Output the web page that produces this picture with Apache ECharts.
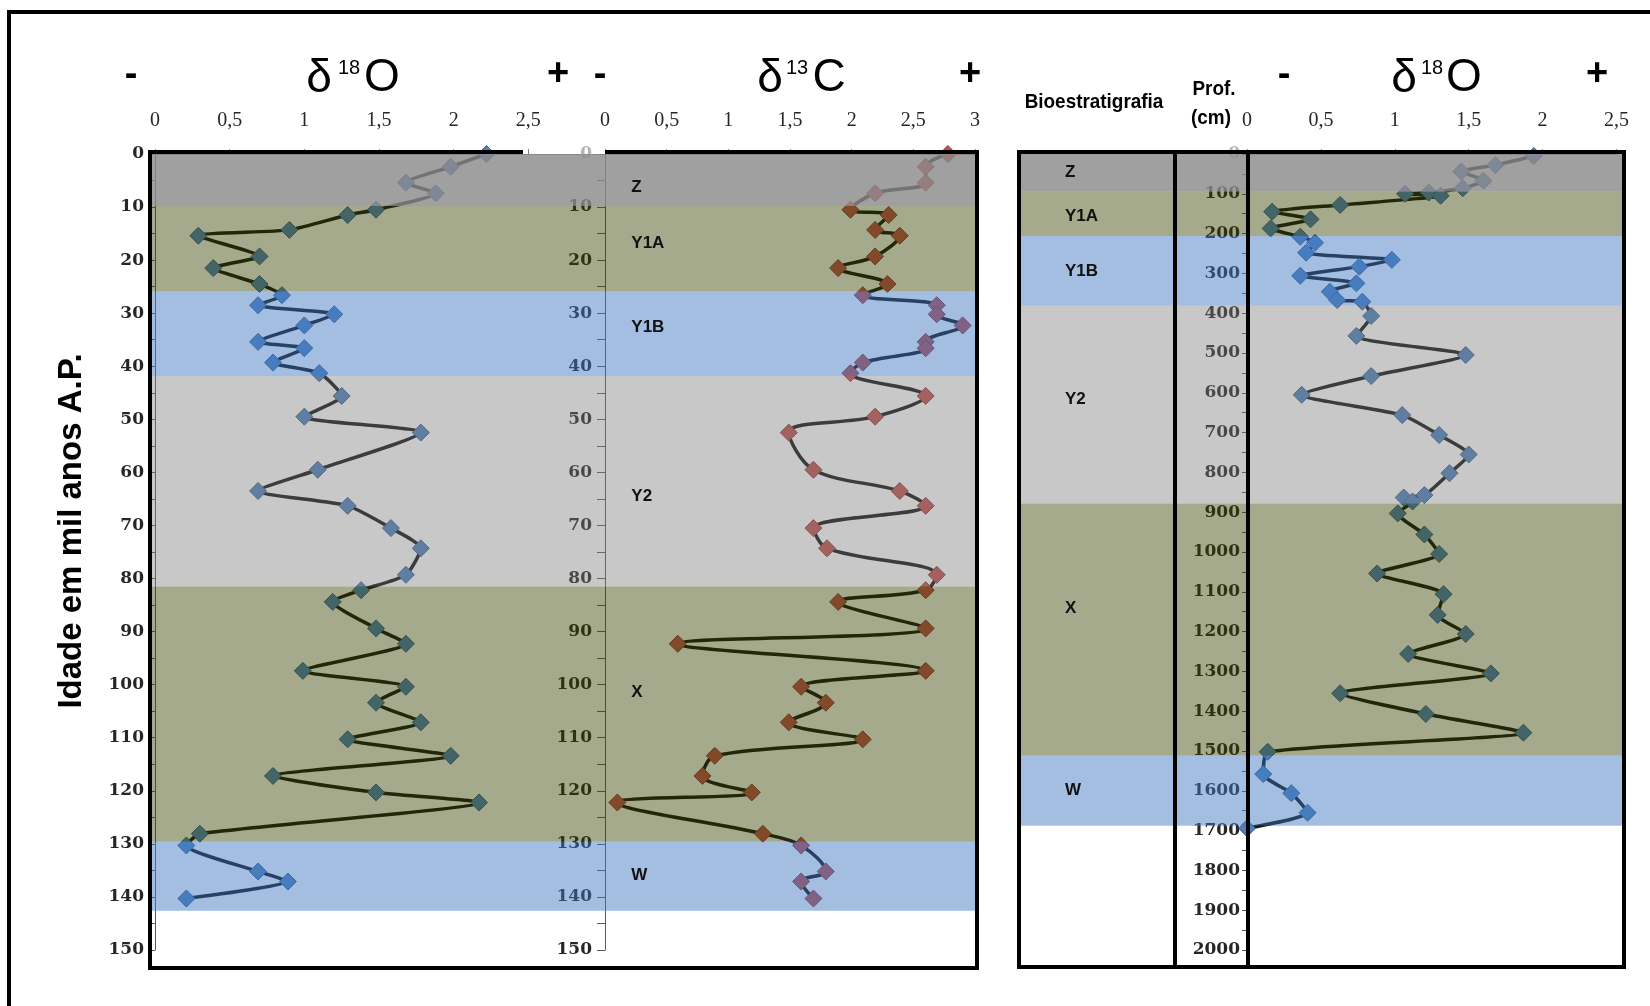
<!DOCTYPE html>
<html>
<head>
<meta charset="utf-8">
<script src="https://cdn.jsdelivr.net/npm/echarts@6/dist/echarts.min.js"></script>
<style>
  html, body { margin: 0; padding: 0; background: #ffffff; }
  #chart { width: 1650px; height: 1006px; }
</style>
</head>
<body>
<div id="chart"></div>
<script>
// ---- Dated core: sample ages (ka BP) shared by both isotope curves ----
const ageKa = [0, 2.4, 5.4, 7.4, 10.5, 11.5, 14.3, 15.4, 19.3, 21.5, 24.5, 26.6, 28.5, 30.2, 32.3,
  35.4, 36.6, 39.3, 41.3, 45.6, 49.5, 52.5, 59.5, 63.5, 66.3, 70.5, 74.3, 79.3, 82.2, 84.4, 89.4,
  92.3, 97.4, 100.4, 103.4, 107.1, 110.3, 113.4, 117.2, 120.3, 122.2, 128.1, 130.3, 135.2, 137.1, 140.3];
const d18O_age = [2.22, 1.98, 1.68, 1.88, 1.48, 1.29, 0.90, 0.29, 0.70, 0.39, 0.70, 0.85, 0.69, 1.20, 1.00,
  0.69, 1.00, 0.79, 1.10, 1.25, 1.00, 1.78, 1.09, 0.69, 1.29, 1.58, 1.78, 1.68, 1.38, 1.19, 1.48,
  1.68, 0.99, 1.68, 1.48, 1.78, 1.29, 1.98, 0.79, 1.48, 2.17, 0.30, 0.21, 0.69, 0.89, 0.21];
const d13C_age = [2.78, 2.60, 2.60, 2.19, 1.99, 2.30, 2.19, 2.39, 2.19, 1.89, 2.29, 2.09, 2.69, 2.69, 2.90,
  2.60, 2.60, 2.09, 1.99, 2.60, 2.19, 1.49, 1.69, 2.39, 2.60, 1.69, 1.80, 2.69, 2.60, 1.89, 2.60,
  0.59, 2.60, 1.59, 1.79, 1.49, 2.09, 0.89, 0.79, 1.19, 0.10, 1.28, 1.59, 1.79, 1.59, 1.69];

// ---- Core by depth (cm) ----
const depthCm = [5, 28, 44, 67, 86, 97, 100, 105, 128, 145, 164, 187, 208, 223, 248, 266, 283, 306, 325,
  346, 367, 371, 407, 457, 505, 558, 605, 656, 706, 755, 802, 857, 863, 873, 903, 956, 1005, 1054,
  1106, 1158, 1206, 1256, 1305, 1355, 1407, 1454, 1502, 1558, 1606, 1655, 1694];
const d18O_depth = [1.94, 1.68, 1.45, 1.60, 1.46, 1.23, 1.07, 1.31, 0.63, 0.17, 0.43, 0.16, 0.36, 0.46, 0.40,
  0.98, 0.76, 0.36, 0.74, 0.56, 0.61, 0.78, 0.84, 0.74, 1.48, 0.84, 0.37, 1.05, 1.30, 1.50, 1.37,
  1.20, 1.06, 1.12, 1.02, 1.20, 1.30, 0.88, 1.33, 1.29, 1.48, 1.09, 1.65, 0.63, 1.21, 1.87, 0.14,
  0.11, 0.30, 0.41, 0.00];

// ---- Biostratigraphic zones ----
const zoneNames = ['Z', 'Y1A', 'Y1B', 'Y2', 'X', 'W'];
const zoneAgeFrom = [0, 9.8, 25.9, 41.9, 81.5, 129.6];
const zoneAgeTo = [9.8, 25.9, 41.9, 81.5, 129.6, 142.6];
const zoneDepthFrom = [0, 95, 206, 381, 878, 1512];
const zoneDepthTo = [95, 206, 381, 878, 1512, 1688];

// ---- Axis ticks ----
const isoTicksWide = [0, 0.5, 1, 1.5, 2, 2.5, 3];
const isoTicksNarrow = [0, 0.5, 1, 1.5, 2, 2.5];
const ageTicks = [0, 150, 10];
const depthTicks = [0, 2000, 100];

// ---- Layout / style (not data) ----
// zone tint, laid semi-transparently over the curves
const zoneTint = {
  'Z': 'rgba(138,138,138,0.81)',
  'Y1A': 'rgba(56,67,0,0.45)',
  'Y1B': 'rgba(63,119,192,0.48)',
  'Y2': 'rgba(122,122,122,0.41)',
  'X': 'rgba(56,67,0,0.45)',
  'W': 'rgba(63,119,192,0.48)'
};
// vertical anchor of each zone name (axis units) and horizontal anchor (fraction of box)
const ageLabelAt = { 'Z': 6.2, 'Y1A': 16.8, 'Y1B': 32.6, 'Y2': 64.6, 'X': 101.4, 'W': 136 };
const depthLabelAt = { 'Z': 45, 'Y1A': 156, 'Y1B': 294, 'Y2': 616, 'X': 1141, 'W': 1600 };
const ageLabelFrac = 0.582;
const depthLabelFrac = 0.076;

const comma = v => String(v).replace('.', ',');
const AX = '#7f7f7f';
const TXT = '#262626';
const NARROW = 'Liberation Sans';

function isoAxis(grid, ticks, hideMax) {
  return {
    gridIndex: grid, type: 'value', position: 'top',
    min: ticks[0], max: ticks[ticks.length - 1], interval: ticks[1] - ticks[0],
    axisLine: { show: true, onZero: false, lineStyle: { color: AX, width: 1 } },
    axisTick: { show: true, inside: false, length: 5, lineStyle: { color: AX } },
    axisLabel: {
      show: true, margin: 23, fontFamily: 'Liberation Serif', fontSize: 20, color: TXT,
      formatter: comma, showMinLabel: true, showMaxLabel: !hideMax
    },
    splitLine: { show: false }
  };
}
// zeroFaint: the top label sits under the zone tint, so it reads faint
function vertAxis(grid, t, tickLen, margin, zeroFaint) {
  return {
    gridIndex: grid, type: 'value', inverse: true, min: t[0], max: t[1], interval: t[2],
    axisLine: { show: true, onZero: false, lineStyle: { color: '#595959', width: 1 } },
    axisTick: { show: true, length: tickLen, lineStyle: { color: '#595959' } },
    minorTick: { show: true, splitNumber: 2, length: tickLen, lineStyle: { color: '#595959' } },
    axisLabel: {
      show: true, margin: margin, fontFamily: 'DejaVu Serif', fontWeight: 'bold',
      fontSize: 17, showMinLabel: true, showMaxLabel: true,
      formatter: v => String(v),
      color: v => (zeroFaint && Number(v) === 0) ? '#b4b4b4' : TXT
    },
    splitLine: { show: false }, minorSplitLine: { show: false }
  };
}
function hiddenAxis(grid, min, max, inverse) {
  return { gridIndex: grid, type: 'value', min, max, inverse, show: false,
           splitLine: { show: false } };
}

function curve(xi, yi, pts, fill, border, smooth) {
  return {
    type: 'line', xAxisIndex: xi, yAxisIndex: yi, data: pts, z: 2, smooth,
    symbol: 'diamond', symbolSize: 17, showSymbol: true,
    itemStyle: { color: fill, borderColor: border, borderWidth: 1 },
    lineStyle: { color: '#111111', width: 3.5 },
    emphasis: { disabled: true }, silent: true
  };
}

function zoneSeries(xi, yi, from, to, labelAt, frac, labelFont) {
  return {
    type: 'custom', xAxisIndex: xi, yAxisIndex: yi, z: 10, silent: true,
    data: zoneNames.map((n, i) => [from[i], to[i], i]),
    renderItem: function (params, api) {
      const idx = api.value(2);
      const name = zoneNames[idx];
      const p1 = api.coord([0, api.value(0)]);
      const p2 = api.coord([1, api.value(1)]);
      const lp = api.coord([frac, labelAt[name]]);
      return {
        type: 'group',
        children: [
          { type: 'rect', shape: { x: p1[0], y: p1[1], width: p2[0] - p1[0], height: p2[1] - p1[1] },
            style: { fill: zoneTint[name] } },
          { type: 'text', x: lp[0], y: lp[1], z2: 5,
            style: { text: name, fill: '#111111', fontFamily: labelFont, fontWeight: 'bold',
                     fontSize: 17, align: 'left', verticalAlign: 'middle' } }
        ]
      };
    }
  };
}

function txt(x, y, s, size, weight, family, extra) {
  return Object.assign({
    type: 'text', x, y, z: 100,
    style: { text: s, fill: '#000000', fontSize: size, fontWeight: weight || 'normal',
             fontFamily: family || 'Liberation Sans', align: 'center', verticalAlign: 'middle' }
  }, extra || {});
}
function ln(x1, y1, x2, y2, w) {
  return { type: 'line', z: 100, shape: { x1, y1, x2, y2 },
           style: { stroke: '#000000', lineWidth: w || 4 } };
}

const plotTop = 154, plotH = 796;

const option = {
  animation: false,
  backgroundColor: '#ffffff',
  grid: [
    { left: 155, top: plotTop, width: 448, height: plotH },     // δ18O by age
    { left: 605, top: plotTop, width: 370, height: plotH },     // δ13C by age
    { left: 1247, top: plotTop, width: 369.5, height: plotH },  // δ18O by depth
    { left: 150, top: plotTop, width: 827, height: plotH },     // zones, age box
    { left: 1019, top: plotTop, width: 605, height: plotH }     // zones, depth box
  ],
  xAxis: [
    isoAxis(0, isoTicksWide, true),
    isoAxis(1, isoTicksWide, false),
    isoAxis(2, isoTicksNarrow, false),
    hiddenAxis(3, 0, 1, false),
    hiddenAxis(4, 0, 1, false)
  ],
  yAxis: [
    vertAxis(0, ageTicks, 5, 11, false),
    vertAxis(1, ageTicks, 8, 13, true),
    vertAxis(2, depthTicks, 5, 7, true),
    hiddenAxis(3, ageTicks[0], ageTicks[1], true),
    hiddenAxis(4, depthTicks[0], depthTicks[1], true)
  ],
  series: [
    curve(0, 0, ageKa.map((a, i) => [d18O_age[i], a]), '#4f81bd', '#385d8a', 0.2),
    curve(1, 1, ageKa.map((a, i) => [d13C_age[i], a]), '#c0504d', '#8c3836', 0.35),
    curve(2, 2, depthCm.map((d, i) => [d18O_depth[i], d]), '#4f81bd', '#385d8a', 0.2),
    zoneSeries(3, 3, zoneAgeFrom, zoneAgeTo, ageLabelAt, ageLabelFrac, 'Liberation Sans'),
    zoneSeries(4, 4, zoneDepthFrom, zoneDepthTo, depthLabelAt, depthLabelFrac, 'Liberation Sans')
  ],
  graphic: {
    elements: [
      // outer frame
      { type: 'rect', z: 100, shape: { x: 9, y: 12, width: 2000, height: 2000 },
        style: { fill: null, stroke: '#000000', lineWidth: 4 } },
      // age box (δ18O + δ13C)
      ln(150, 152, 523, 152), ln(605, 152, 977, 152),
      ln(150, 150, 150, 970), ln(977, 150, 977, 970), ln(148, 968, 979, 968),
      // depth box with its two columns
      { type: 'rect', z: 100, shape: { x: 1019, y: 152, width: 605, height: 815 },
        style: { fill: null, stroke: '#000000', lineWidth: 4 } },
      ln(1175, 152, 1175, 967), ln(1248, 152, 1248, 967),

      // panel headings
      txt(131, 76, '-', 38, 'bold'),
      txt(319, 79, 'δ', 46), txt(349, 68, '18', 20), txt(382, 78, 'O', 46),
      txt(558, 75, '+', 38, 'bold'),
      txt(600, 76, '-', 38, 'bold'),
      txt(770, 79, 'δ', 46), txt(797, 68, '13', 20), txt(829, 78, 'C', 46),
      txt(970, 75, '+', 38, 'bold'),
      txt(1284, 76, '-', 38, 'bold'),
      txt(1404, 79, 'δ', 46), txt(1432, 68, '18', 20), txt(1464, 78, 'O', 46),
      txt(1597, 75, '+', 38, 'bold'),

      // column headings, condensed horizontally
      txt(1094, 102, 'Bioestratigrafia', 21, 'bold', NARROW, { scaleX: 0.9 }),
      txt(1214, 89, 'Prof.', 21, 'bold', NARROW, { scaleX: 0.9 }),
      txt(1211, 118, '(cm)', 21, 'bold', NARROW, { scaleX: 0.9 }),

      txt(72, 531, 'Idade em mil anos A.P.', 33, 'bold', 'Liberation Sans',
          { rotation: Math.PI / 2 })
    ]
  }
};

const chart = echarts.init(document.getElementById('chart'));
chart.setOption(option);
</script>
</body>
</html>
